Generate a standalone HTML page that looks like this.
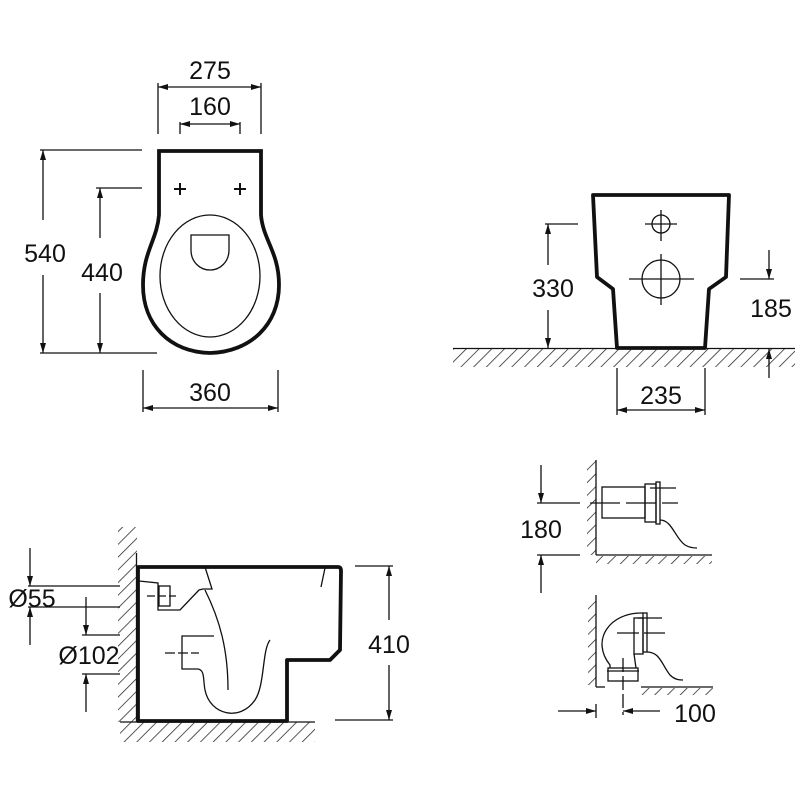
<!DOCTYPE html>
<html><head><meta charset="utf-8"><style>
html,body{margin:0;padding:0;background:#fff}
svg{display:block}
text{font-family:"Liberation Sans",sans-serif;font-size:25px;fill:#111}
</style></head><body>
<svg width="800" height="800" viewBox="0 0 800 800" xmlns="http://www.w3.org/2000/svg">
<defs>
<marker id="a" viewBox="0 0 10 6" refX="10" refY="3" markerWidth="10" markerHeight="6" orient="auto-start-reverse" markerUnits="userSpaceOnUse"><path d="M0,0 L10,3 L0,6 Z" fill="#111"/></marker>
<pattern id="h" width="9" height="9" patternUnits="userSpaceOnUse" patternTransform="rotate(45)"><line x1="0" y1="0" x2="0" y2="9" stroke="#222" stroke-width="1.5"/></pattern>
</defs>
<g fill="none" stroke="#111" stroke-width="1.3">
<!-- TOP LEFT -->
<line x1="158" y1="83" x2="158" y2="134"/><line x1="261" y1="83" x2="261" y2="134"/>
<line x1="158" y1="87" x2="261" y2="87" marker-start="url(#a)" marker-end="url(#a)"/>
<line x1="180" y1="122" x2="180" y2="134"/><line x1="240" y1="122" x2="240" y2="134"/>
<line x1="180" y1="124" x2="240" y2="124" marker-start="url(#a)" marker-end="url(#a)"/>
<path d="M159,151 L261,151 L261,215 C263,240 279,252 279,285 C279,325 250,352 210,353 C170,352 143,325 143,285 C143,252 157,240 159,215 Z" stroke-width="3.8"/>
<ellipse cx="210" cy="276" rx="50" ry="61"/>
<path d="M191,235 L229,235 L229,250 C229,262 220,270 210,270 C200,270 191,262 191,250 Z"/>
<path d="M174,189 L186,189 M180,183 L180,195 M234,189 L246,189 M240,183 L240,195" stroke-width="2"/>
<line x1="40" y1="150" x2="142" y2="150"/><line x1="40" y1="353" x2="157" y2="353"/>
<line x1="43" y1="150" x2="43" y2="220" marker-start="url(#a)"/><line x1="43" y1="275" x2="43" y2="353" marker-end="url(#a)"/>
<line x1="96" y1="188" x2="142" y2="188"/>
<line x1="100" y1="188" x2="100" y2="238" marker-start="url(#a)"/><line x1="100" y1="293" x2="100" y2="353" marker-end="url(#a)"/>
<line x1="143" y1="370" x2="143" y2="412"/><line x1="278" y1="370" x2="278" y2="412"/>
<line x1="143" y1="408" x2="278" y2="408" marker-start="url(#a)" marker-end="url(#a)"/>
<!-- TOP RIGHT -->
<path d="M593,195 L729,195 L726,277 L709,289 L705,348 L617,348 L613,289 L597,277 Z" stroke-width="3.8" stroke-linejoin="round"/>
<circle cx="661" cy="224" r="9"/><path d="M645,224 L677,224 M661,210 L661,241"/>
<circle cx="661" cy="279" r="19"/><path d="M629,279 L694,279 M661,254 L661,305"/>
<rect x="453" y="349" width="342" height="18" fill="url(#h)" stroke="none"/>
<line x1="453" y1="348.5" x2="795" y2="348.5"/>
<line x1="545" y1="224" x2="578" y2="224"/>
<line x1="548" y1="224" x2="548" y2="265" marker-start="url(#a)"/><line x1="548" y1="310" x2="548" y2="348" marker-end="url(#a)"/>
<line x1="740" y1="279" x2="774" y2="279"/>
<line x1="769" y1="250" x2="769" y2="279" marker-end="url(#a)"/>
<line x1="769" y1="378" x2="769" y2="349" marker-end="url(#a)"/>
<line x1="617" y1="368" x2="617" y2="415"/><line x1="705" y1="368" x2="705" y2="415"/>
<line x1="617" y1="410" x2="705" y2="410" marker-start="url(#a)" marker-end="url(#a)"/>
<!-- BOTTOM LEFT -->
<rect x="118" y="527" width="19" height="195" fill="url(#h)" stroke="none"/>
<rect x="120" y="722" width="195" height="20" fill="url(#h)" stroke="none"/>
<line x1="136.5" y1="553" x2="136.5" y2="722"/><line x1="120" y1="722" x2="315" y2="722"/>
<path d="M138,567 L338,567 Q341,567 341,571 L340,650 L330,660 L287,660 L287,721 L138,721 Z" stroke-width="3.8" stroke-linejoin="round"/>
<path d="M139,581 L158,583 L158,610 L180,610 L199,590 L203,589 L212,589 L205,567"/>
<rect x="159" y="586" width="11" height="20"/>
<line x1="147" y1="596" x2="176" y2="596" stroke-dasharray="8,3"/>
<path d="M205,590 C220,620 228,650 228,690"/>
<path d="M214,636 L182,636 L182,669 L198,669 C205,670 203,680 205,690 C210,715 240,722 255,700 C265,685 262,650 270,640"/>
<line x1="165" y1="653" x2="199" y2="653" stroke-dasharray="10,3"/>
<line x1="325" y1="568" x2="321" y2="587"/>
<line x1="355" y1="566" x2="393" y2="566"/><line x1="335" y1="720" x2="393" y2="720"/>
<line x1="389" y1="566" x2="389" y2="620" marker-start="url(#a)"/><line x1="389" y1="665" x2="389" y2="720" marker-end="url(#a)"/>
<line x1="28" y1="586" x2="120" y2="586"/><line x1="28" y1="607" x2="120" y2="607"/>
<line x1="30" y1="548" x2="30" y2="586" marker-end="url(#a)"/><line x1="30" y1="645" x2="30" y2="607" marker-end="url(#a)"/>
<line x1="82" y1="635" x2="120" y2="635"/><line x1="82" y1="674" x2="120" y2="674"/>
<line x1="86" y1="597" x2="86" y2="635" marker-end="url(#a)"/><line x1="86" y1="712" x2="86" y2="674" marker-end="url(#a)"/>
<!-- BOTTOM RIGHT top detail -->
<rect x="587" y="460" width="9" height="95" fill="url(#h)" stroke="none"/>
<rect x="596" y="556" width="116" height="8" fill="url(#h)" stroke="none"/>
<line x1="596" y1="460" x2="596" y2="555"/><line x1="596" y1="555" x2="712" y2="555"/>
<rect x="602" y="487" width="43" height="31"/>
<rect x="645" y="484" width="11" height="38"/><rect x="656" y="482" width="4" height="42"/>
<line x1="650" y1="488" x2="676" y2="488"/>
<line x1="590" y1="503" x2="678" y2="503" stroke-dasharray="30,6"/>
<path d="M660,520 C672,520 675,538 685,545 C690,548 695,548 697,548"/>
<line x1="537" y1="503" x2="580" y2="503"/><line x1="537" y1="555" x2="580" y2="555"/>
<line x1="541" y1="465" x2="541" y2="503" marker-end="url(#a)"/><line x1="541" y1="593" x2="541" y2="555" marker-end="url(#a)"/>
<!-- bottom detail -->
<rect x="588" y="597" width="8" height="88" fill="url(#h)" stroke="none"/>
<rect x="641" y="688" width="72" height="7" fill="url(#h)" stroke="none"/>
<line x1="596" y1="595" x2="596" y2="687"/><line x1="596" y1="687" x2="605" y2="687"/><line x1="641" y1="687" x2="713" y2="687"/>
<path d="M643,613 C610,612 590,640 610,665 L610,668"/>
<path d="M634,654 L636,668"/>
<rect x="634" y="618" width="9" height="36"/><rect x="643" y="613" width="4" height="39"/>
<rect x="608" y="668" width="30" height="13"/><line x1="607" y1="671" x2="639" y2="671"/>
<line x1="623" y1="658" x2="623" y2="715" stroke-dasharray="14,4"/>
<line x1="638" y1="618" x2="662" y2="618"/>
<line x1="617" y1="633" x2="665" y2="633" stroke-dasharray="22,5"/>
<path d="M647,652 C660,652 662,665 670,675 C675,680 680,680 683,680"/>
<line x1="596" y1="704" x2="596" y2="718"/>
<line x1="558" y1="711" x2="596" y2="711" marker-end="url(#a)"/>
<line x1="660" y1="711" x2="623" y2="711" marker-end="url(#a)"/>
</g>
<text x="210" y="79" text-anchor="middle">275</text>
<text x="210" y="115" text-anchor="middle">160</text>
<text x="45" y="262" text-anchor="middle">540</text>
<text x="102" y="281" text-anchor="middle">440</text>
<text x="210" y="401" text-anchor="middle">360</text>
<text x="553" y="297" text-anchor="middle">330</text>
<text x="771" y="317" text-anchor="middle">185</text>
<text x="661" y="404" text-anchor="middle">235</text>
<text x="32" y="607" text-anchor="middle">Ø55</text>
<text x="89" y="664" text-anchor="middle">Ø102</text>
<text x="389" y="653" text-anchor="middle">410</text>
<text x="541" y="538" text-anchor="middle">180</text>
<text x="695" y="722" text-anchor="middle">100</text>
</svg>
</body></html>
